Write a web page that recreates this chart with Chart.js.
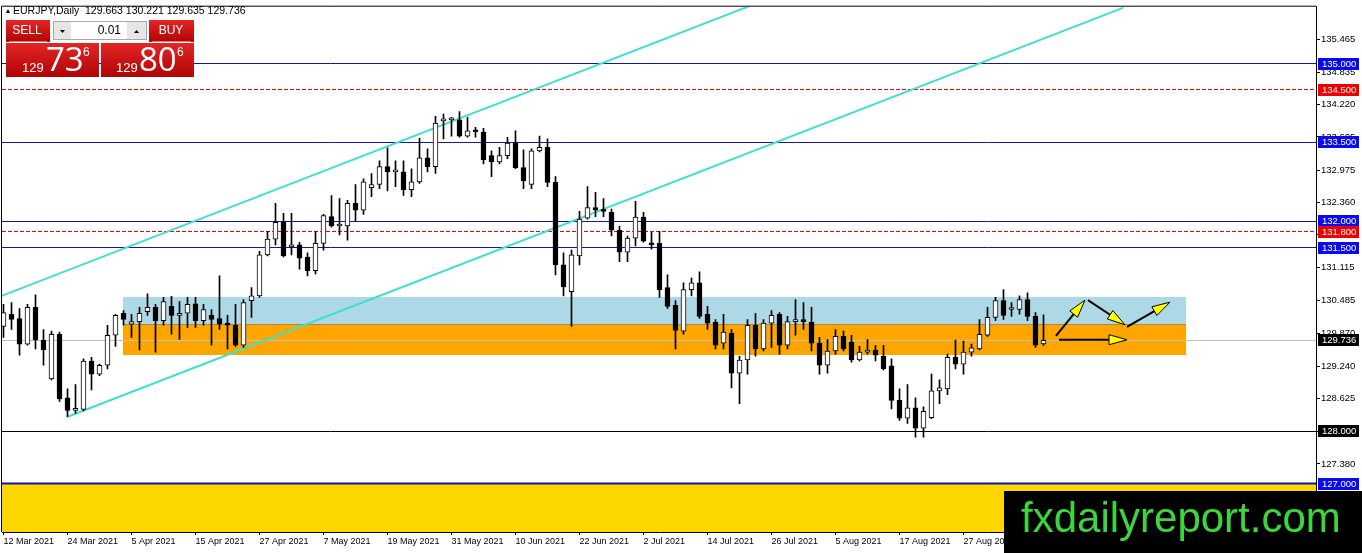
<!DOCTYPE html>
<html>
<head>
<meta charset="utf-8">
<script src="https://cdn.jsdelivr.net/npm/chart.js@4.4.0/dist/chart.umd.min.js"></script>
<style>
html, body { margin: 0; padding: 0; background: #fff; overflow: hidden; }
</style>
</head>
<body>
<canvas id="chart" width="1362" height="553"></canvas>
<script>
// EURJPY daily, one candle per trading day starting 12 Mar 2021
opens = [
130.00, 130.23, 130.15, 129.66, 130.36, 129.74, 129.00, 129.85, 128.64, 128.40,
128.42, 129.34, 129.09, 129.26, 129.83, 130.25, 130.04, 130.09, 130.28, 130.36,
130.11, 130.38, 130.21, 130.25, 130.43, 130.11, 130.21, 130.15, 130.06, 130.02,
129.64, 130.49, 130.58, 131.36, 131.66, 131.98, 131.51, 131.55, 131.32, 131.06,
131.58, 132.09, 131.91, 131.91, 132.34, 132.21, 132.64, 132.70, 133.04, 132.94,
132.94, 132.60, 132.75, 133.21, 133.04, 133.91, 133.93, 133.93, 133.62, 133.74,
133.70, 133.25, 133.13, 133.25, 133.49, 133.02, 132.70, 133.34, 133.41, 132.74,
131.17, 130.66, 131.34, 132.06, 132.26, 132.21, 132.17, 131.83, 131.41, 131.68,
132.08, 131.58, 131.58, 130.74, 130.40, 129.91, 130.70, 130.83, 130.23, 130.08,
129.68, 129.87, 129.11, 129.36, 130.02, 129.57, 130.06, 130.23, 129.64, 130.09,
130.10, 130.08, 129.68, 129.26, 129.53, 129.81, 129.70, 129.36, 129.51, 129.55,
129.43, 129.25, 128.59, 128.25, 128.45, 128.06, 128.26, 128.77, 128.81, 129.41,
129.28, 129.51, 129.57, 129.83, 130.17, 130.49, 130.32, 130.32, 130.51, 130.19,
129.663]
highs = [
130.42, 130.45, 130.34, 130.42, 130.60, 129.94, 129.91, 129.89, 128.81, 128.89,
129.38, 129.41, 129.28, 130.02, 130.23, 130.30, 130.23, 130.36, 130.62, 130.42,
130.55, 130.57, 130.47, 130.55, 130.55, 130.42, 130.32, 130.96, 130.21, 130.42,
130.51, 130.74, 131.43, 131.81, 132.34, 132.15, 132.15, 131.60, 131.40, 131.81,
132.13, 132.49, 132.43, 132.40, 132.70, 132.81, 132.91, 133.15, 133.40, 133.15,
133.15, 133.00, 133.58, 133.38, 134.00, 134.04, 133.98, 134.09, 133.98, 133.79,
133.77, 133.34, 133.41, 133.60, 133.72, 133.36, 133.38, 133.62, 133.57, 132.85,
131.40, 131.45, 132.19, 132.66, 132.55, 132.43, 132.23, 131.91, 131.72, 132.38,
132.17, 131.79, 131.81, 130.98, 130.49, 130.83, 130.92, 131.04, 130.38, 130.13,
130.23, 129.94, 129.43, 130.13, 130.25, 130.13, 130.30, 130.26, 130.19, 130.51,
130.45, 130.36, 129.79, 129.75, 129.94, 129.91, 129.83, 129.62, 129.75, 129.64,
129.64, 129.38, 128.81, 128.89, 128.64, 128.47, 129.09, 128.98, 129.47, 129.74,
129.72, 129.66, 130.13, 130.36, 130.55, 130.70, 130.45, 130.58, 130.64, 130.26,
130.221]
lows = [
129.79, 129.94, 129.45, 129.64, 129.57, 129.26, 128.98, 128.57, 128.28, 128.34,
128.39, 128.79, 129.06, 129.19, 129.62, 130.02, 129.79, 129.55, 130.21, 129.51,
130.02, 129.85, 129.75, 129.98, 129.98, 130.02, 129.64, 129.94, 129.57, 129.62,
129.60, 130.17, 130.55, 131.34, 131.55, 131.32, 131.36, 131.09, 130.96, 131.00,
131.45, 131.89, 131.74, 131.64, 132.00, 132.13, 132.47, 132.62, 132.58, 132.66,
132.49, 132.47, 132.72, 132.94, 132.91, 133.57, 133.62, 133.60, 133.60, 133.60,
133.09, 132.85, 133.09, 133.19, 133.00, 132.62, 132.62, 133.32, 132.66, 130.98,
130.58, 130.00, 131.17, 132.04, 132.09, 132.09, 131.72, 131.23, 131.23, 131.53,
131.60, 131.47, 130.55, 130.34, 129.57, 129.85, 130.58, 130.15, 129.94, 129.57,
129.57, 128.83, 128.53, 129.09, 129.43, 129.53, 129.60, 129.47, 129.57, 129.83,
129.94, 129.53, 129.09, 129.11, 129.47, 129.53, 129.32, 129.34, 129.47, 129.34,
129.17, 128.43, 128.21, 128.15, 127.89, 127.89, 128.24, 128.53, 128.70, 129.19,
129.09, 129.43, 129.55, 129.81, 130.11, 130.13, 130.19, 130.23, 130.11, 129.60,
129.635]
closes = [
130.26, 130.13, 129.66, 130.36, 129.74, 129.55, 129.85, 128.62, 128.40, 128.43,
129.34, 129.09, 129.26, 129.83, 130.21, 130.13, 130.09, 130.25, 130.36, 130.11,
130.47, 130.21, 130.25, 130.42, 130.11, 130.32, 130.13, 130.04, 130.02, 129.64,
130.45, 130.58, 131.36, 131.66, 131.98, 131.34, 131.55, 131.30, 131.06, 131.58,
132.11, 131.91, 131.92, 132.34, 132.21, 132.75, 132.70, 133.04, 132.94, 132.95,
132.60, 132.75, 133.21, 133.04, 133.87, 133.93, 133.94, 133.62, 133.72, 133.70,
133.17, 133.13, 133.25, 133.49, 133.02, 132.77, 133.34, 133.41, 132.74, 131.17,
130.75, 131.36, 132.04, 132.26, 132.21, 132.19, 131.83, 131.41, 131.68, 132.08,
131.62, 131.55, 130.70, 130.38, 129.92, 130.70, 130.83, 130.19, 130.06, 129.64,
129.89, 129.11, 129.36, 130.02, 129.57, 130.06, 130.21, 129.64, 130.09, 130.10,
130.09, 129.68, 129.26, 129.53, 129.81, 129.57, 129.36, 129.51, 129.55, 129.45,
129.19, 128.59, 128.25, 128.45, 128.06, 128.38, 128.77, 128.83, 129.41, 129.28,
129.51, 129.59, 129.85, 130.17, 130.49, 130.21, 130.33, 130.51, 130.19, 129.64,
129.736]

// date labels, one every 8 bars
dateLabels = ['12 Mar 2021', '24 Mar 2021', '5 Apr 2021', '15 Apr 2021', '27 Apr 2021', '7 May 2021',
  '19 May 2021', '31 May 2021', '10 Jun 2021', '22 Jun 2021', '2 Jul 2021', '14 Jul 2021',
  '26 Jul 2021', '5 Aug 2021', '17 Aug 2021', '27 Aug 2021']
priceTicks = [135.465, 134.835, 134.220, 133.605, 132.975, 132.360, 131.750, 131.115,
  130.485, 129.870, 129.240, 128.625, 128.000, 127.380]

// levels drawn on the chart (price, kind)
levelPrices = [135.000, 134.500, 133.500, 132.000, 131.800, 131.500, 128.000, 127.000]
levelKinds = ['blue', 'red', 'blue', 'blue', 'red', 'blue', 'black', 'blue']
bidPrice = 129.736

// support / resistance boxes [fromBar, toBar, low, high]
cyanZone = [14.97, 147.8, 130.04, 130.56]
orangeZone = [14.97, 147.8, 129.46, 130.04]
// channel lines [bar, price, bar, price]
channelUpper = [-1, 130.535, 100, 136.496]
channelLower = [7.94, 128.274, 140, 136.068]
// projection arrows [bar, price, bar, price]
arrows = [
  [131.56, 129.82, 135.19, 130.50],
  [135.56, 130.50, 140.19, 130.03],
  [140.44, 129.99, 145.81, 130.46],
  [131.94, 129.745, 140.44, 129.745]
]

bodyData = opens.map((o, i) => ({ x: i, y: [o, closes[i]] }))
wickData = lows.map((l, i) => ({ x: i, y: [l, highs[i]] }))
bodyColors = opens.map((o, i) => closes[i] >= o ? '#ffffff' : '#000000')

lineColors = { blue: '#1414a8', red: '#ff0000', black: '#000000' }
tagColors = { blue: '#0a0af0', red: '#f00000', black: '#000000' }

function px(v) { return Math.floor(v) + 0.5 }

function drawArrow(ctx, x0, y0, x1, y1) {
    const a = Math.atan2(y1 - y0, x1 - x0)
    const L = 18, W = 5
    const bx = x1 - L * Math.cos(a), by = y1 - L * Math.sin(a)
    ctx.strokeStyle = '#000'
    ctx.lineWidth = 2
    ctx.beginPath()
    ctx.moveTo(x0, y0)
    ctx.lineTo(bx, by)
    ctx.stroke()
    ctx.beginPath()
    ctx.moveTo(x1, y1)
    ctx.lineTo(bx + W * Math.sin(a), by - W * Math.cos(a))
    ctx.lineTo(bx - W * Math.sin(a), by + W * Math.cos(a))
    ctx.closePath()
    ctx.fillStyle = '#ffff00'
    ctx.fill()
    ctx.lineWidth = 1
    ctx.stroke()
}

function redBox(ctx, x, y, w, h) {
    const g = ctx.createLinearGradient(0, y, 0, y + h)
    g.addColorStop(0, '#e42626')
    g.addColorStop(1, '#b00404')
    ctx.fillStyle = g
    ctx.fillRect(x, y, w, h)
}

backPlugin = {
    id: 'backPlugin',
    beforeDatasetsDraw(chart) {
        const ctx = chart.ctx, a = chart.chartArea
        const x = chart.scales.x, y = chart.scales.y
        ctx.save()
        ctx.beginPath()
        ctx.rect(a.left, a.top, a.right - a.left, a.bottom - a.top)
        ctx.clip()

        // yellow band under 127
        const y127 = Math.round(y.getPixelForValue(127))
        ctx.fillStyle = '#ffd700'
        ctx.fillRect(a.left, y127, a.right - a.left, a.bottom - y127)

        // zones
        ;[[cyanZone, '#add8e6'], [orangeZone, '#ffa500']].forEach(([z, c]) => {
            const x0 = Math.round(x.getPixelForValue(z[0])), x1 = Math.round(x.getPixelForValue(z[1]))
            const y0 = Math.round(y.getPixelForValue(z[3])), y1 = Math.round(y.getPixelForValue(z[2]))
            ctx.fillStyle = c
            ctx.fillRect(x0, y0, x1 - x0, y1 - y0)
        })
        const ox0 = Math.round(x.getPixelForValue(orangeZone[0])), ox1 = Math.round(x.getPixelForValue(orangeZone[1]))
        ctx.fillStyle = '#b08a3c'
        ctx.fillRect(ox0, Math.round(y.getPixelForValue(orangeZone[3])), ox1 - ox0, 1)

        // bid line
        ctx.strokeStyle = '#c0c0c0'
        ctx.lineWidth = 1
        ctx.beginPath()
        const yb = px(y.getPixelForValue(bidPrice))
        ctx.moveTo(a.left, yb)
        ctx.lineTo(a.right, yb)
        ctx.stroke()

        // horizontal levels
        levelPrices.forEach((p, k) => {
            const yy = px(y.getPixelForValue(p))
            ctx.strokeStyle = lineColors[levelKinds[k]]
            ctx.lineWidth = p == 127 ? 2 : 1
            ctx.setLineDash(levelKinds[k] == 'red' ? [4, 2] : [])
            ctx.beginPath()
            ctx.moveTo(a.left, yy)
            ctx.lineTo(a.right, yy)
            ctx.stroke()
        })
        ctx.setLineDash([])

        // channel
        ctx.strokeStyle = '#40e0d0'
        ctx.lineWidth = 2
        ;[channelUpper, channelLower].forEach(c => {
            ctx.beginPath()
            ctx.moveTo(x.getPixelForValue(c[0]), y.getPixelForValue(c[1]))
            ctx.lineTo(x.getPixelForValue(c[2]), y.getPixelForValue(c[3]))
            ctx.stroke()
        })
        ctx.restore()
    },
    afterDatasetsDraw(chart) {
        const ctx = chart.ctx
        const x = chart.scales.x, y = chart.scales.y
        ctx.save()
        arrows.forEach(r => drawArrow(ctx, x.getPixelForValue(r[0]), y.getPixelForValue(r[1]),
            x.getPixelForValue(r[2]), y.getPixelForValue(r[3])))
        ctx.restore()
    },
    afterDraw(chart) {
        const ctx = chart.ctx, a = chart.chartArea
        const y = chart.scales.y
        ctx.save()

        // frame top / left
        ctx.strokeStyle = '#000'
        ctx.lineWidth = 1
        ctx.beginPath()
        ctx.moveTo(a.left - 0.5, a.bottom)
        ctx.lineTo(a.left - 0.5, a.top - 0.5)
        ctx.lineTo(a.right, a.top - 0.5)
        ctx.stroke()

        // price tags on the axis
        ctx.font = '9.5px "Liberation Sans", Arial, sans-serif'
        ctx.textBaseline = 'middle'
        ctx.textAlign = 'left'
        const tags = levelPrices.map((p, k) => [p, levelKinds[k]])
        tags.push([bidPrice, 'black'])
        tags.forEach(([p, kind]) => {
            const yy = Math.round(y.getPixelForValue(p))
            ctx.fillStyle = tagColors[kind]
            ctx.fillRect(a.right + 2, yy - 6, 41, 12)
            ctx.fillStyle = '#fff'
            ctx.fillText(p.toFixed(3), a.right + 6, yy + 0.5)
        })

        // header
        ctx.fillStyle = '#000'
        ctx.beginPath()
        ctx.moveTo(6, 13); ctx.lineTo(10, 13); ctx.lineTo(8, 9); ctx.closePath()
        ctx.fill()
        ctx.font = '10.5px "Liberation Sans", Arial, sans-serif'
        ctx.fillText('EURJPY,Daily', 13, 11)
        ctx.fillText('129.663 130.221 129.635 129.736', 85, 11)

        // one click trading panel
        redBox(ctx, 6, 20, 44, 22)
        redBox(ctx, 149, 20, 45, 22)
        ctx.fillStyle = '#f07070'
        ctx.fillRect(9, 41, 38, 1)
        ctx.fillRect(152, 41, 39, 1)
        ctx.fillStyle = '#e6e6e6'
        ctx.fillRect(53, 21, 18, 19)
        ctx.fillRect(127, 21, 20, 19)
        ctx.fillStyle = '#fff'
        ctx.fillRect(71, 21, 56, 19)
        ctx.strokeStyle = '#a8a8a8'
        ctx.strokeRect(53.5, 21.5, 93, 18)
        ctx.fillStyle = '#000'
        ctx.beginPath(); ctx.moveTo(60, 30); ctx.lineTo(65, 30); ctx.lineTo(62.5, 33); ctx.closePath(); ctx.fill()
        ctx.beginPath(); ctx.moveTo(134, 33); ctx.lineTo(139, 33); ctx.lineTo(136.5, 30); ctx.closePath(); ctx.fill()
        ctx.font = '12px "Liberation Sans", Arial, sans-serif'
        ctx.textAlign = 'right'
        ctx.fillText('0.01', 121, 31)
        ctx.textAlign = 'center'
        ctx.fillStyle = '#fff'
        ctx.fillText('SELL', 27, 31)
        ctx.fillText('BUY', 171, 31)
        redBox(ctx, 6, 43, 93, 34)
        redBox(ctx, 101, 43, 93, 34)
        ctx.fillStyle = '#fff'
        ctx.textAlign = 'left'
        ctx.textBaseline = 'alphabetic'
        ctx.font = '13px "Liberation Sans", Arial, sans-serif'
        ctx.fillText('129', 22, 72)
        ctx.fillText('129', 116, 72)
        ctx.font = '33px "Open Sans", "Liberation Sans", sans-serif'
        ctx.fillText('73', 46, 71)
        ctx.fillText('80', 139, 71)
        ctx.font = '12px "Liberation Sans", Arial, sans-serif'
        ctx.fillText('6', 83, 56)
        ctx.fillText('6', 177, 56)

        // watermark
        ctx.fillStyle = '#000'
        ctx.fillRect(1004, 491, 358, 62)
        ctx.fillStyle = '#3cd63c'
        ctx.font = '42px "Liberation Sans", Arial, sans-serif'
        ctx.fillText('fxdailyreport.com', 1021, 532)
        ctx.restore()
    }
}

ctx = document.getElementById('chart')
new Chart(ctx, {
    type: 'bar',
    data: {
        datasets: [{
            data: bodyData,
            backgroundColor: bodyColors,
            borderColor: '#000',
            borderWidth: 1,
            borderSkipped: false,
            barThickness: 5,
            minBarLength: 2,
            grouped: false,
            order: 0
        }, {
            data: wickData,
            backgroundColor: '#000',
            borderWidth: 0,
            barThickness: 1,
            grouped: false,
            order: 1
        }]
    },
    options: {
        responsive: false,
        animation: false,
        events: [],
        layout: { padding: { left: 2, top: 2, right: 0, bottom: 0 } },
        plugins: { legend: { display: false }, tooltip: { enabled: false } },
        scales: {
            x: {
                type: 'linear',
                offset: false,
                min: -0.1875,
                max: 164.0625,
                afterBuildTicks: s => { s.ticks = dateLabels.map((d, k) => ({ value: k * 8 })) },
                afterFit: s => { s.height = 21 },
                grid: { display: true, offset: false, drawOnChartArea: false, drawTicks: true, tickLength: 3, color: '#000' },
                border: { display: true, color: '#000' },
                ticks: {
                    autoSkip: false,
                    maxRotation: 0,
                    align: 'start',
                    padding: 1,
                    color: '#000',
                    font: { family: '"Liberation Sans", Arial, sans-serif', size: 9 },
                    callback: (v, k) => dateLabels[k]
                }
            },
            y: {
                type: 'linear',
                position: 'right',
                min: 126.0849,
                max: 136.0849,
                afterBuildTicks: s => { s.ticks = priceTicks.map(v => ({ value: v })) },
                afterFit: s => { s.width = 46 },
                grid: { display: true, drawOnChartArea: false, drawTicks: true, tickLength: 4, color: '#000' },
                border: { display: true, color: '#000' },
                ticks: {
                    padding: 1,
                    color: '#000',
                    font: { family: '"Liberation Sans", Arial, sans-serif', size: 9.5 },
                    callback: v => v.toFixed(3)
                }
            }
        }
    },
    plugins: [backPlugin]
})
</script>
</body>
</html>
